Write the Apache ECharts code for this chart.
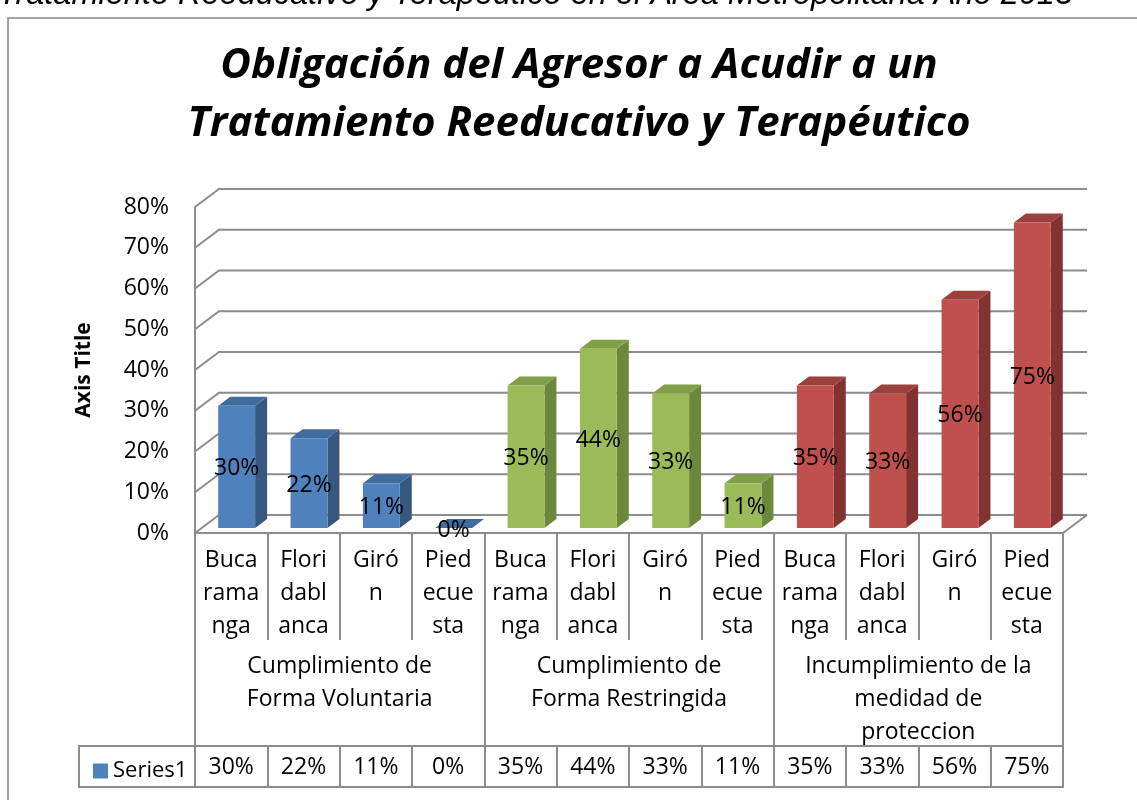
<!DOCTYPE html>
<html>
<head>
<meta charset="utf-8">
<title>Obligación del Agresor a Acudir a un Tratamiento</title>
<script src="https://cdn.jsdelivr.net/npm/echarts@6/dist/echarts.min.js"></script>
<style>
  html, body { margin: 0; padding: 0; background: #fff; }
  #chart { width: 1137px; height: 800px; }
</style>
</head>
<body>
<div id="chart"></div>
<script>
// etiquetas de municipio tal como aparecen partidas en la tabla
const cityLabels = [
  'Buca\nrama\nnga', 'Flori\ndabl\nanca', 'Giró\nn', 'Pied\necue\nsta',
  'Buca\nrama\nnga', 'Flori\ndabl\nanca', 'Giró\nn', 'Pied\necue\nsta',
  'Buca\nrama\nnga', 'Flori\ndabl\nanca', 'Giró\nn', 'Pied\necue\nsta'
];
const groups = [
  'Cumplimiento de\nForma Voluntaria',
  'Cumplimiento de\nForma Restringida',
  'Incumplimiento de la\nmedidad de\nproteccion'
];
const values = [0.30, 0.22, 0.11, 0.00, 0.35, 0.44, 0.33, 0.11, 0.35, 0.33, 0.56, 0.75];
const yTicks = [0, 0.1, 0.2, 0.3, 0.4, 0.5, 0.6, 0.7, 0.8];

const palette = [
  { front: '#4F81BD', side: '#36587F', top: '#416C9F' },
  { front: '#9BBB59', side: '#6C883A', top: '#809F47' },
  { front: '#C0504D', side: '#823331', top: '#9C403E' }
];
const gridColor = '#8C8C8C';
const font = '"Open Sans", "Noto Sans", sans-serif';
// profundidad del cuadro 3D
const DX = 24, DY = -18;

function pct(v) {
  return Math.round(v * 100) + '%';
}

// paredes y piso
function renderFrame(params, api) {
  const cs = params.coordSys;
  const v = api.value(1);
  const y = api.coord([0, v])[1];
  const left = cs.x, right = cs.x + cs.width;
  const children = [{
    type: 'polyline',
    shape: { points: [[left, y], [left + DX, y + DY], [right + DX, y + DY]] },
    style: { stroke: gridColor, lineWidth: 2, fill: null }
  }];
  if (v === 0) {
    children.push({
      type: 'line',
      shape: { x1: right, y1: y, x2: right + DX, y2: y + DY },
      style: { stroke: gridColor, lineWidth: 2 }
    });
  }
  return { type: 'group', children: children };
}

// barra 3D: cara frontal, lateral y superior
function renderBar(params, api) {
  const i = api.value(0);
  const v = api.value(1);
  const base = api.coord([i, 0]);
  const top = api.coord([i, v]);
  const w = api.size([1, 0])[0] * 0.51;
  const ox = 5.5, oy = -5, dx = 12, dy = -9;
  const x0 = base[0] - w / 2 + ox, x1 = x0 + w;
  const yb = base[1] + oy, yt = top[1] + oy;
  const c = palette[Math.floor(i / 4)];
  return {
    type: 'group',
    children: [
      { type: 'polygon', shape: { points: [[x1, yt], [x1 + dx, yt + dy], [x1 + dx, yb + dy], [x1, yb]] }, style: { fill: c.side } },
      { type: 'polygon', shape: { points: [[x0, yt], [x0 + dx, yt + dy], [x1 + dx, yt + dy], [x1, yt]] }, style: { fill: c.top } },
      { type: 'rect', shape: { x: x0, y: yt, width: w, height: yb - yt }, style: { fill: c.front } },
      { type: 'text', x: (x0 + x1) / 2, y: (yt + yb) / 2 + 2,
        style: { text: pct(v), fill: '#000', font: '23px ' + font, align: 'center', verticalAlign: 'middle' } }
    ]
  };
}

const chart = echarts.init(document.getElementById('chart'));

const tableLine = { color: gridColor, width: 2 };

const option = {
  animation: false,
  grid: { left: 195, right: 74, top: 207, bottom: 267 },
  legend: {
    left: 88, top: 755,
    icon: 'rect', itemWidth: 15, itemHeight: 15,
    textStyle: { fontSize: 22, fontFamily: font, color: '#000' },
    data: [{ name: 'Series1', itemStyle: { color: '#4F81BD' } }]
  },
  xAxis: [
    {
      type: 'category', data: cityLabels, position: 'bottom',
      axisLine: { show: true, lineStyle: tableLine },
      axisTick: { show: true, interval: 0, length: 107, lineStyle: tableLine },
      axisLabel: { interval: 0, margin: 11, color: '#000', fontSize: 23, fontFamily: font, lineHeight: 33 }
    },
    {
      type: 'category', data: groups, position: 'bottom', offset: 107,
      axisLine: { show: false },
      axisTick: { show: true, interval: 0, length: 106, lineStyle: tableLine },
      axisLabel: { interval: 0, margin: 10, color: '#000', fontSize: 23, fontFamily: font, lineHeight: 33 }
    },
    {
      type: 'category', data: values.map(pct), position: 'bottom', offset: 213,
      axisLine: { show: true, lineStyle: tableLine },
      axisTick: { show: true, interval: 0, length: 41, lineStyle: tableLine },
      axisLabel: { interval: 0, margin: 9, color: '#000', fontSize: 23, fontFamily: font, lineHeight: 24 }
    },
    {
      type: 'category', data: cityLabels, position: 'bottom', offset: 254,
      axisLine: { show: true, lineStyle: tableLine },
      axisTick: { show: false },
      axisLabel: { show: false }
    }
  ],
  yAxis: {
    type: 'value', min: 0, max: 0.8, interval: 0.1,
    name: 'Axis Title', nameLocation: 'middle', nameRotate: 90, nameGap: 100,
    nameTextStyle: { fontSize: 21, fontWeight: 'bold', fontFamily: font, color: '#000' },
    axisLine: { show: true, lineStyle: tableLine },
    axisTick: { show: false },
    splitLine: { show: false },
    axisLabel: { margin: 26, color: '#000', fontSize: 23, fontFamily: font, formatter: pct }
  },
  graphic: [
    { type: 'rect', shape: { x: 8, y: 18, width: 1200, height: 900 },
      style: { fill: null, stroke: '#868686', lineWidth: 1.5 } },
    { type: 'rect', shape: { x: 79, y: 746, width: 116, height: 41 },
      style: { fill: null, stroke: gridColor, lineWidth: 2 } },
    { type: 'text', x: -2, y: 11,
      style: { text: 'Tratamiento Reeducativo y Terapéutico en el Área Metropolitana Año 2013',
        font: 'italic 32.5px "Liberation Sans", Arial, sans-serif', fill: '#000', verticalAlign: 'bottom' } },
    { type: 'text', x: 579, y: 95,
      style: { text: 'Obligación del Agresor a Acudir a un\nTratamiento Reeducativo y Terapéutico',
        font: 'italic bold 42px ' + font, lineHeight: 58, fill: '#000', align: 'center', verticalAlign: 'middle' } }
  ],
  series: [
    {
      name: 'frame', type: 'custom', renderItem: renderFrame, silent: true,
      data: yTicks.map(v => [0, v]), encode: { x: 0, y: 1 }, z: 1
    },
    {
      name: 'Series1', type: 'custom', renderItem: renderBar,
      data: values.map((v, i) => [i, v]), encode: { x: 0, y: 1 }, z: 2
    }
  ]
};

chart.setOption(option);
</script>
</body>
</html>
